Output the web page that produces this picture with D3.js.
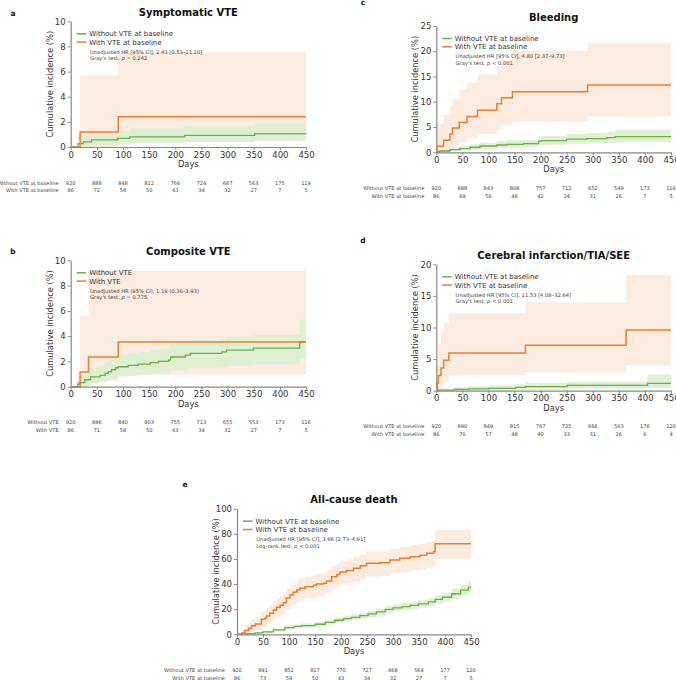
<!DOCTYPE html>
<html><head><meta charset="utf-8">
<script src="https://cdn.jsdelivr.net/npm/d3@7"></script>
<style>body{margin:0;background:#fff}svg{display:block;font-family:"DejaVu Sans",Verdana,sans-serif}</style>
</head><body><svg id="c" width="676" height="680"></svg>
<script>
// ---------- data ----------
const dayTicks = [0,50,100,150,200,250,300,350,400,450];

// a: Symptomatic VTE
const aWithLine = [[0,0],[18,1.2],[91,2.4]];
const aWithCI = [[18,0,5.7],[91,0.5,7.55]];
const aWithoutLine = [[0,0],[14,0.27],[24,0.4],[40,0.56],[90,0.69],[113,0.8],[218,0.93],[352,1.06]];
const aWithoutCI = [[15,0,0.95],[24,0.05,0.95],[40,0.1,0.95],[90,0.2,1.3],[113,0.3,1.48],[218,0.4,1.67],[352,0.5,1.86]];
const aRiskWithout = [920,888,848,812,766,724,667,563,175,119];
const aRiskWith = [86,72,58,50,43,34,32,27,7,5];

// b: Composite VTE
const bWithLine = [[0,0],[18,1.16],[34,2.35],[91,3.54]];
const bWithCI = [[18,0,5.6],[34,0.45,9.15],[91,0.95,9.15]];
const bWithoutLine = [[0,0],[13,0.2],[16,0.33],[27,0.55],[38,0.78],[56,0.9],[66,1.05],[72,1.2],[78,1.35],[86,1.5],[91,1.58],[110,1.69],[129,1.79],[152,1.9],[168,2.0],[187,2.1],[191,2.35],[219,2.5],[229,2.64],[289,2.75],[298,2.9],[349,3.05],[438,3.54]];
const bWithoutCI = [[13,0,0.7],[16,0,0.9],[27,0.1,1.2],[38,0.25,1.5],[56,0.35,1.7],[66,0.45,1.9],[72,0.55,2.1],[78,0.65,2.3],[86,0.75,2.4],[91,0.8,2.5],[110,0.85,2.6],[129,0.92,2.75],[152,1.0,2.9],[168,1.05,3.0],[187,1.12,3.15],[191,1.3,3.4],[219,1.4,3.55],[229,1.5,3.7],[289,1.55,3.8],[298,1.65,3.95],[349,1.75,4.1],[438,2.2,5.3]];
const bRiskWithout = [920,886,840,803,755,713,655,553,173,116];
const bRiskWith = [86,71,58,50,43,34,32,27,7,5];

// c: Bleeding
const cWithLine = [[0,0],[1,1.2],[14,2.4],[26,3.6],[31,4.8],[44,5.9],[59,7.1],[79,8.3],[116,9.6],[125,10.8],[146,12.0],[290,13.3]];
const cWithCI = [[1,0,5.7],[14,0.3,7.4],[26,0.8,9.0],[31,1.3,10.6],[44,2.0,12.5],[59,2.8,13.8],[79,3.6,15.4],[116,4.5,17.0],[125,5.3,18.3],[146,6.1,20.1],[290,7.1,21.6]];
const cWithoutLine = [[0,0],[3,0.13],[7,0.26],[26,0.53],[45,0.73],[65,1.0],[84,1.25],[116,1.45],[135,1.58],[167,1.7],[196,2.2],[202,2.3],[250,2.6],[288,2.7],[327,2.9],[343,3.1]];
const cWithoutCI = [[3,0,0.5],[7,0.05,0.6],[26,0.2,1.0],[45,0.35,1.3],[65,0.5,1.6],[84,0.7,1.9],[116,0.85,2.2],[135,0.95,2.4],[167,1.05,2.5],[196,1.4,3.1],[202,1.5,3.3],[250,1.7,3.6],[288,1.8,3.8],[327,1.9,4.1],[343,2.0,4.5]];
const cRiskWithout = [920,888,843,808,757,712,652,549,173,116];
const cRiskWith = [86,69,56,48,42,34,31,26,7,5];

// d: Cerebral infarction/TIA/SEE
const dWithLine = [[0,0],[2,1.2],[4,2.4],[9,3.6],[14,4.8],[24,5.95],[171,7.2],[364,9.6]];
const dWithCI = [[2,0,4.2],[4,0.2,7.4],[9,0.6,9.3],[14,1.3,10.7],[24,2.4,12.3],[171,2.9,14.0],[364,4.0,18.3]];
const dWithoutLine = [[0,0],[5,0.1],[34,0.2],[62,0.3],[100,0.37],[152,0.53],[171,0.63],[251,0.84],[405,1.16]];
const dWithoutCI = [[5,0,0.35],[34,0.02,0.6],[62,0.05,0.75],[100,0.08,0.85],[152,0.15,1.05],[171,0.2,1.2],[251,0.3,1.4],[405,0.45,2.6]];
const dRiskWithout = [920,890,849,815,767,725,666,563,176,120];
const dRiskWith = [86,70,57,48,40,33,31,26,6,4];

// e: All-cause death
const eWithLine = [[0,0],[9,1],[15,3],[22,4.8],[28,6.9],[35,8.2],[47,11.9],[54,12.7],[57,14.6],[63,16.7],[70,19.4],[76,21.5],[83,23.1],[89,25.2],[95,28.9],[102,31.3],[108,33.4],[115,35.3],[121,36.6],[131,37.9],[147,39],[153,40],[166,40.6],[172,42.4],[182,45.9],[192,47.7],[198,49.6],[211,50.7],[224,52.5],[237,54.6],[249,56.5],[275,57],[294,59.2],[313,60.5],[333,61.8],[352,62.9],[365,64.5],[378,65.8],[381,72.1]];
const eWithCI = [[0,0,0],[9,0,4.8],[15,0.5,7.5],[22,1.5,9.5],[28,2.5,12],[35,3.5,13.5],[47,6,18],[54,6.5,19],[57,8,21],[63,9.5,23.5],[70,12,26.5],[76,13.5,28.5],[83,15,30.5],[89,17,32.5],[95,20,36.5],[102,22,39],[108,24,41],[115,26,43],[121,27,44.5],[131,28.5,46],[147,29.5,47.5],[153,30.5,48.5],[166,31,49],[172,33,51],[182,36,54.5],[192,38,56.5],[198,39.5,58.5],[211,40.5,59.5],[224,42,61.5],[237,44,63.5],[249,46,65.5],[275,46.5,66],[294,48.5,68],[313,49.5,69.5],[333,50.5,71],[352,51.5,72],[365,53,73.5],[378,54,75],[381,60,83]];
const eWithoutLine = [[0,0],[10,0.3],[20,0.6],[35,1.2],[50,2.0],[70,3.5],[92,5.3],[110,6.3],[124,6.9],[150,8.0],[170,9.5],[188,11.2],[205,12.5],[220,13.5],[236,14.8],[252,16.2],[268,17.8],[285,19.8],[300,21.0],[317,22.0],[333,23.0],[349,24.2],[368,25.8],[381,27.8],[395,29.5],[413,32.3],[430,35.2],[445,37.5]];
const eWithoutCI = [[0,0,0],[10,0.1,0.6],[20,0.2,1.1],[35,0.6,1.9],[50,1.2,2.9],[70,2.4,4.7],[92,3.9,6.8],[110,4.8,7.9],[124,5.3,8.6],[150,6.3,9.8],[170,7.6,11.4],[188,9.1,13.3],[205,10.3,14.7],[220,11.2,15.9],[236,12.4,17.2],[252,13.7,18.7],[268,15.2,20.4],[285,17.1,22.5],[300,18.2,23.8],[317,19.2,24.9],[333,20.1,26.0],[349,21.2,27.2],[368,22.6,29.0],[381,24.4,31.2],[395,25.9,33.2],[413,28.4,36.3],[430,30.9,39.4],[445,33.0,42.0]];
const eRiskWithout = [920,891,852,817,770,727,668,564,177,120];
const eRiskWith = [86,73,59,50,43,34,32,27,7,5];

// ---------- text ----------
const panels = [
  {letter:"a", title:"Symptomatic VTE", ymax:10, ystep:2, lw:"Without VTE at baseline", lv:"With VTE at baseline",
   hr:"Unadjusted HR [95% CI], 2.43 [0.53–11.20]", test:"Gray's test, ", pv:" = 0.242",
   wl:aWithLine, wci:aWithCI, ol:aWithoutLine, oci:aWithoutCI, rw:aRiskWithout, rv:aRiskWith,
   x0:70.7, x1:306, yb:147, yt:21.3, lx:13, ly:13},
  {letter:"b", title:"Composite VTE", ymax:10, ystep:2, lw:"Without VTE", lv:"With VTE",
   hr:"Unadjusted HR (95% CI), 1.19 (0.36–3.93)", test:"Gray's test, ", pv:" = 0.775",
   wl:bWithLine, wci:bWithCI, ol:bWithoutLine, oci:bWithoutCI, rw:bRiskWithout, rv:bRiskWith,
   x0:70.7, x1:306, yb:386.7, yt:260.3, lx:13, ly:251},
  {letter:"c", title:"Bleeding", ymax:25, ystep:5, lw:"Without VTE at baseline", lv:"With VTE at baseline",
   hr:"Unadjusted HR [95% CI], 4.80 [2.37–9.73]", test:"Gray's test, ", pv:" < 0.001",
   wl:cWithLine, wci:cWithCI, ol:cWithoutLine, oci:cWithoutCI, rw:cRiskWithout, rv:cRiskWith,
   x0:436.3, x1:671, yb:152.3, yt:26, lx:363, ly:2},
  {letter:"d", title:"Cerebral infarction/TIA/SEE", ymax:20, ystep:5, lw:"Without VTE at baseline", lv:"With VTE at baseline",
   hr:"Unadjusted HR [95% CI], 11.53 [4.08–32.64]", test:"Gray's test, ", pv:" < 0.001",
   wl:dWithLine, wci:dWithCI, ol:dWithoutLine, oci:dWithoutCI, rw:dRiskWithout, rv:dRiskWith,
   x0:436.3, x1:671, yb:390.7, yt:264.3, lx:363, ly:240},
  {letter:"e", title:"All-cause death", ymax:100, ystep:20, lw:"Without VTE at baseline", lv:"With VTE at baseline",
   hr:"Unadjusted HR [95% CI], 3.66 [2.73–4.91]", test:"Log-rank test, ", pv:" < 0.001",
   wl:eWithLine, wci:eWithCI, ol:eWithoutLine, oci:eWithoutCI, rw:eRiskWithout, rv:eRiskWith,
   x0:237, x1:471, yb:634.3, yt:508.7, lx:185, ly:484}
];

const ORANGE = "#ED7D31", GREEN = "#70AD47";
const ORANGE_BAND = "#fcebdf", GREEN_BAND = "#dcf0cf";
const svg = d3.select("#c");

panels.forEach(p => {
  const g = svg.append("g");
  const x = d3.scaleLinear().domain([0,450]).range([p.x0,p.x1]);
  const y = d3.scaleLinear().domain([0,p.ymax]).range([p.yb,p.yt]);
  const yTicks = d3.range(0, p.ymax + 0.001, p.ystep);

  // bands
  const band = d3.area().curve(d3.curveStepAfter).x(d => x(d[0])).y0(d => y(d[1])).y1(d => y(d[2]));
  const ext = arr => arr.concat([[450, arr[arr.length-1][1], arr[arr.length-1][2]]]);
  g.append("path").attr("d", band(ext(p.wci))).attr("fill", ORANGE_BAND);
  g.append("path").attr("d", band(ext(p.oci))).attr("fill", GREEN_BAND).attr("fill-opacity", 0.9);

  // lines
  const line = d3.line().curve(d3.curveStepAfter).x(d => x(d[0])).y(d => y(d[1]));
  const extL = arr => arr.concat([[450, arr[arr.length-1][1]]]);
  g.append("path").attr("d", line(extL(p.ol))).attr("fill","none").attr("stroke",GREEN).attr("stroke-width",1.3);
  g.append("path").attr("d", line(extL(p.wl))).attr("fill","none").attr("stroke",ORANGE).attr("stroke-width",1.5);

  // axes
  const ax = g.append("g").attr("transform",`translate(0,${p.yb})`)
    .call(d3.axisBottom(x).tickValues(dayTicks).tickSize(3).tickSizeOuter(0).tickPadding(1.5));
  const ay = g.append("g").attr("transform",`translate(${p.x0},0)`)
    .call(d3.axisLeft(y).tickValues(yTicks).tickSize(3).tickSizeOuter(0).tickPadding(2));
  [ax, ay].forEach(a => {
    a.selectAll("text").attr("font-size", 8.5).attr("fill", "#333").attr("font-family", '"DejaVu Sans",Verdana,sans-serif');
    a.selectAll("line").attr("stroke", "#888");
    a.select(".domain").attr("stroke", "#888").attr("stroke-width", 1.2);
  });

  const cx = (p.x0 + p.x1) / 2;
  // title
  g.append("text").attr("x", cx).attr("y", p.yt - 9).attr("dy","0.35em").attr("text-anchor","middle")
    .attr("font-size", 10).attr("font-weight","bold").attr("fill","#111").text(p.title);
  // letter
  g.append("text").attr("x", p.lx).attr("y", p.ly).attr("dy","0.35em").attr("text-anchor","middle")
    .attr("font-size", 7.5).attr("font-weight","bold").attr("fill","#111").text(p.letter);
  // y label
  g.append("text").attr("transform",`translate(${p.x0 - 21},${(p.yb + p.yt)/2}) rotate(-90)`)
    .attr("dy","0.35em").attr("text-anchor","middle").attr("font-size", 8.3).attr("fill","#333").text("Cumulative incidence (%)");
  // x label
  g.append("text").attr("x", cx).attr("y", p.yb + 17).attr("dy","0.35em").attr("text-anchor","middle")
    .attr("font-size", 8.3).attr("fill","#333").text("Days");

  // legend
  [[p.lw, GREEN, 12.5],[p.lv, ORANGE, 20.8]].forEach(([t,c,dy]) => {
    g.append("line").attr("x1", p.x0 + 6).attr("x2", p.x0 + 15.5).attr("y1", p.yt + dy).attr("y2", p.yt + dy)
      .attr("stroke", c).attr("stroke-width", 1.5);
    g.append("text").attr("x", p.x0 + 18.5).attr("y", p.yt + dy).attr("dy","0.35em")
      .attr("font-size", 7).attr("fill","#333").text(t);
  });
  g.append("text").attr("x", p.x0 + 19.3).attr("y", p.yt + 30.5).attr("dy","0.35em")
    .attr("font-size", 5.2).attr("fill","#444").text(p.hr);
  const t2 = g.append("text").attr("x", p.x0 + 19.3).attr("y", p.yt + 37).attr("dy","0.35em")
    .attr("font-size", 5.2).attr("fill","#444");
  t2.append("tspan").text(p.test);
  t2.append("tspan").attr("font-style","italic").text("p");
  t2.append("tspan").text(p.pv);

  // risk table
  [[p.lw, p.rw, 35.8],[p.lv, p.rv, 43.6]].forEach(([lab, vals, dy]) => {
    g.append("text").attr("x", p.x0 - 12).attr("y", p.yb + dy).attr("dy","0.35em").attr("text-anchor","end")
      .attr("font-size", 5.1).attr("fill","#444").text(lab);
    g.selectAll(null).data(vals).enter().append("text")
      .attr("x", (d,i) => x(dayTicks[i])).attr("y", p.yb + dy).attr("dy","0.35em").attr("text-anchor","middle")
      .attr("font-size", 5.1).attr("fill","#444").text(d => d);
  });
});
</script></body></html>
